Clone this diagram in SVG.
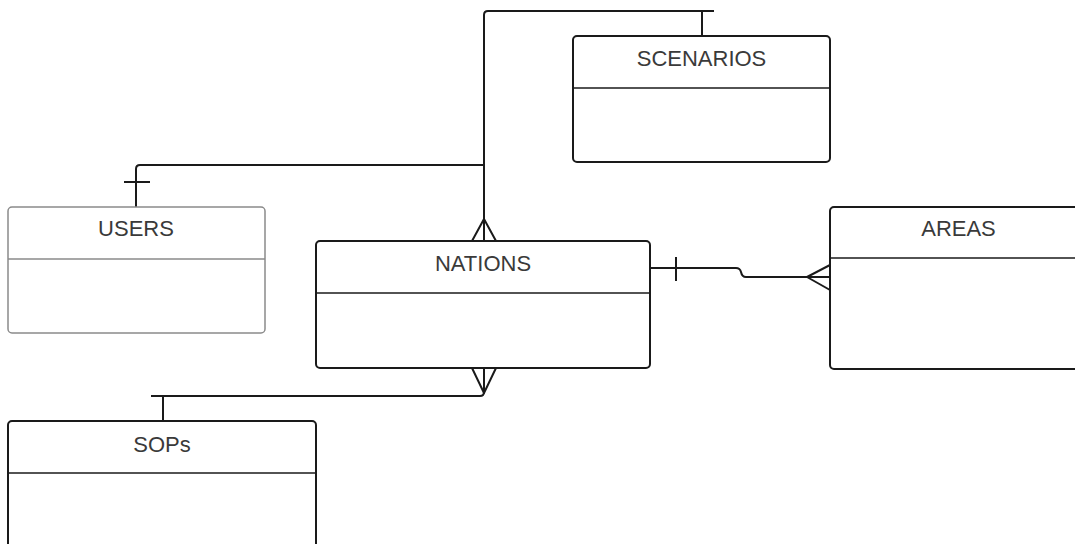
<svg xmlns="http://www.w3.org/2000/svg" width="1075" height="544" viewBox="0 0 1075 544">
  <style>
    .box { fill: #ffffff; stroke: #1a1a1a; stroke-width: 2; }
    .box.light { stroke: #8a8a8a; stroke-width: 1.5; }
    .sep { stroke: #1a1a1a; stroke-width: 1.5; }
    .sep.light { stroke: #8a8a8a; }
    .title { font-family: "Liberation Sans", Arial, sans-serif; font-size: 22px; fill: #3a3a3a; text-anchor: middle; }
    .wire { fill: none; stroke: #1a1a1a; stroke-width: 2; stroke-linejoin: round; }
  </style>
  <rect width="1075" height="544" fill="#ffffff"/>

  <!-- relationships -->
  <g id="connectors">
    <!-- SCENARIOS to NATIONS -->
    <path class="wire" d="M702 36 V11 H488 Q484 11 484 15 V241"/>
    <line class="wire" x1="690" y1="11" x2="714" y2="11"/>
    <path class="wire" d="M472 241 L484 219 L496 241"/>
    <!-- USERS to NATIONS -->
    <path class="wire" d="M136 207 V169 Q136 165 140 165 H484"/>
    <line class="wire" x1="124" y1="182" x2="150" y2="182"/>
    <!-- NATIONS to AREAS -->
    <path class="wire" d="M650 268 H736 Q740 268 741 272 Q742 277 746 277 H830"/>
    <line class="wire" x1="676" y1="257" x2="676" y2="281"/>
    <path class="wire" d="M830 265 L807 277 L830 290"/>
    <!-- NATIONS to SOPs -->
    <path class="wire" d="M484 368 V392 Q484 396 480 396 H163 V421"/>
    <line class="wire" x1="151" y1="396" x2="175" y2="396"/>
    <path class="wire" d="M472 368 L484 393 L496 368"/>
  </g>

  <g id="scenarios">
    <rect class="box" x="573" y="36" width="257" height="126" rx="4"/>
    <line class="sep" x1="573" y1="88" x2="830" y2="88"/>
    <text class="title" x="701.5" y="66">SCENARIOS</text>
  </g>

  <g id="users">
    <rect class="box light" x="8" y="207" width="257" height="126" rx="4"/>
    <line class="sep light" x1="8" y1="259" x2="265" y2="259"/>
    <text class="title" x="136" y="236">USERS</text>
  </g>

  <g id="nations">
    <rect class="box" x="316" y="241" width="334" height="127" rx="4"/>
    <line class="sep" x1="316" y1="293" x2="650" y2="293"/>
    <text class="title" x="483" y="271">NATIONS</text>
  </g>

  <g id="areas">
    <rect class="box" x="830" y="207" width="257" height="162" rx="4"/>
    <line class="sep" x1="830" y1="258" x2="1087" y2="258"/>
    <text class="title" x="958.5" y="236">AREAS</text>
  </g>

  <g id="sops">
    <rect class="box" x="8" y="421" width="308" height="140" rx="4"/>
    <line class="sep" x1="8" y1="473" x2="316" y2="473"/>
    <text class="title" x="162" y="452">SOPs</text>
  </g>
</svg>
